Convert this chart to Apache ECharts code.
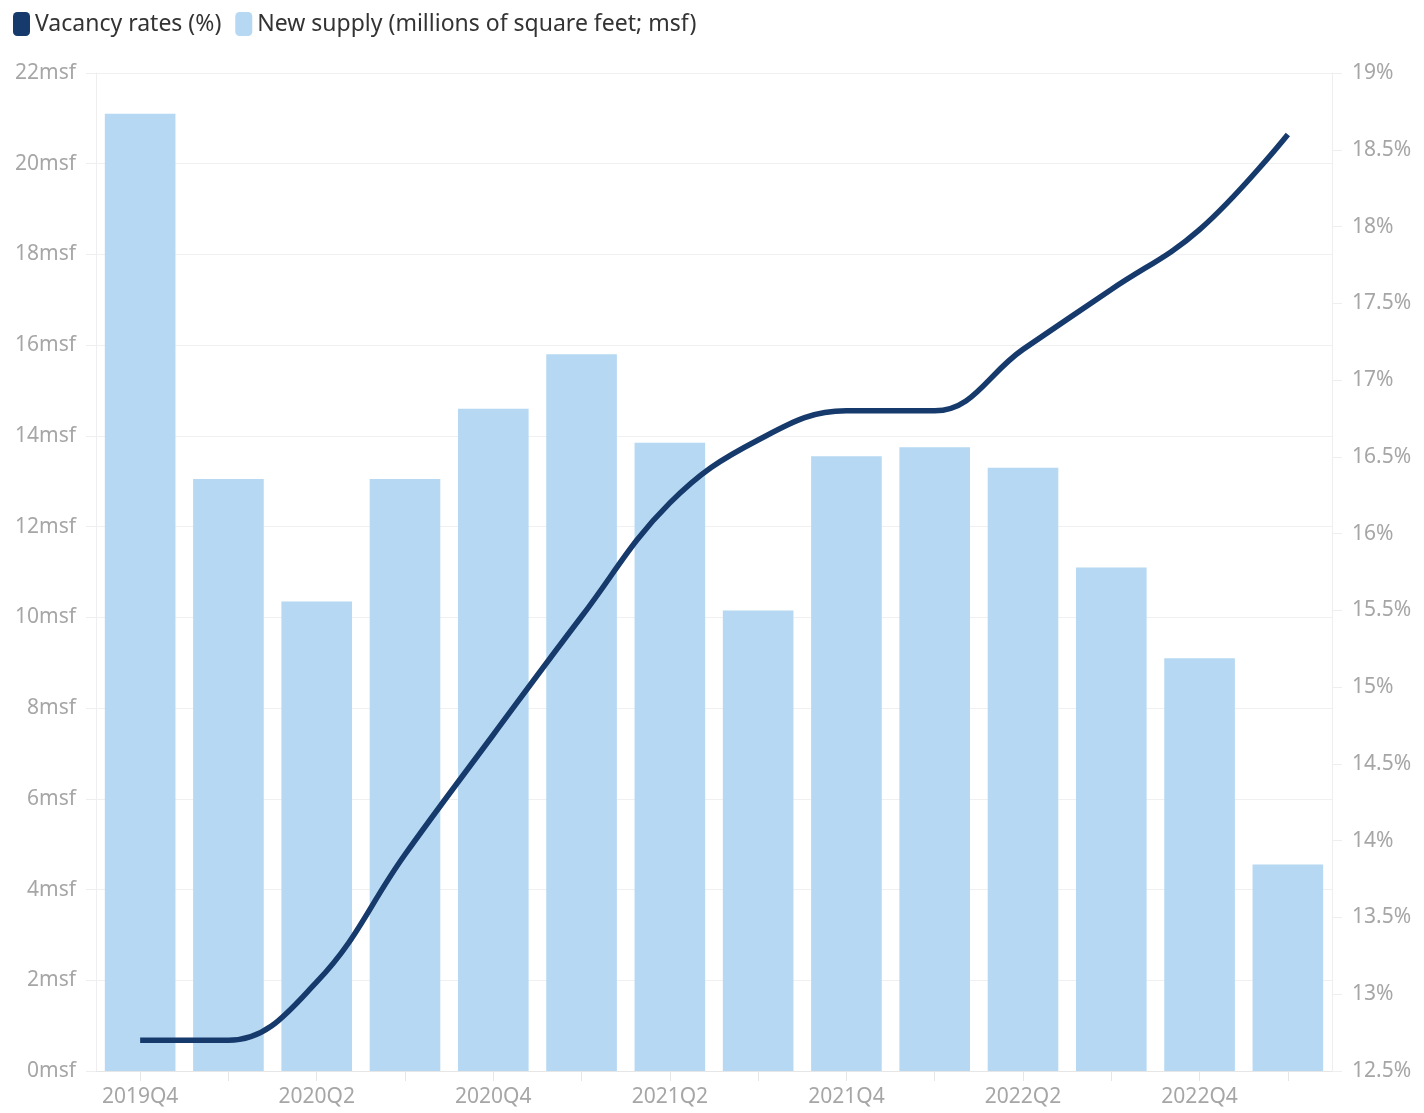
<!DOCTYPE html>
<html>
<head>
<meta charset="utf-8">
<script src="https://cdn.jsdelivr.net/npm/echarts@6/dist/echarts.min.js"></script>
<style>html,body{margin:0;padding:0;background:#fff;}#main{width:1424px;height:1113px;}</style>
</head>
<body>
<div id="main"></div>
<script>
const categories = ['2019Q4','2020Q1','2020Q2','2020Q3','2020Q4','2021Q1','2021Q2','2021Q3','2021Q4','2022Q1','2022Q2','2022Q3','2022Q4','2023Q1'];
const newSupply = [21.1, 13.05, 10.35, 13.05, 14.6, 15.8, 13.85, 10.15, 13.55, 13.75, 13.3, 11.1, 9.1, 4.55];
const vacancy = [12.7, 12.7, 13.08, 13.91, 14.69, 15.46, 16.2, 16.61, 16.8, 16.8, 17.2, 17.59, 17.98, 18.6];
const leftTicks = {min: 0, max: 22, interval: 2};
const rightTicks = {min: 12.5, max: 19, interval: 0.5};

const labelColor = '#a6a6a6';
const font = '"Noto Sans", "Open Sans", sans-serif';
const chart = echarts.init(document.getElementById('main'));
chart.setOption({
  animation: false,
  legend: {
    left: 8, top: 7,
    itemWidth: 17, itemHeight: 24, itemGap: 14,
    textStyle: {fontSize: 23, color: '#333', fontFamily: font},
    data: [
      {name: 'Vacancy rates (%)', icon: 'roundRect', itemStyle: {color: '#163a6c'}},
      {name: 'New supply (millions of square feet; msf)', icon: 'roundRect', itemStyle: {color: '#b6d8f2'}}
    ]
  },
  grid: {left: 96, right: 92, top: 73, bottom: 42},
  xAxis: {
    type: 'category', data: categories,
    axisLine: {lineStyle: {color: '#e6e6e6'}},
    axisTick: {show: true, alignWithLabel: true, interval: 0, length: 10, lineStyle: {color: '#e6e6e6'}},
    axisLabel: {interval: 1, color: labelColor, fontSize: 21, fontFamily: font, margin: 16}
  },
  yAxis: [
    {
      type: 'value', min: leftTicks.min, max: leftTicks.max, interval: leftTicks.interval,
      axisLine: {show: true, lineStyle: {color: '#eeeeee'}},
      axisTick: {show: true, length: 10, lineStyle: {color: '#eeeeee'}},
      splitLine: {lineStyle: {color: '#f0f0f0'}},
      axisLabel: {formatter: v => v + 'msf', color: labelColor, fontSize: 21, fontFamily: font, margin: 20}
    },
    {
      type: 'value', min: rightTicks.min, max: rightTicks.max, interval: rightTicks.interval,
      axisLine: {show: true, lineStyle: {color: '#eeeeee'}},
      axisTick: {show: true, length: 10, lineStyle: {color: '#eeeeee'}},
      splitLine: {show: false},
      axisLabel: {formatter: v => v + '%', color: labelColor, fontSize: 21, fontFamily: font, margin: 20}
    }
  ],
  series: [
    {
      name: 'New supply (millions of square feet; msf)', type: 'bar', yAxisIndex: 0,
      data: newSupply, barCategoryGap: '20%',
      itemStyle: {color: '#b6d8f2'}
    },
    {
      name: 'Vacancy rates (%)', type: 'line', yAxisIndex: 1,
      data: vacancy, smooth: 0.4, showSymbol: false, symbol: 'none',
      lineStyle: {color: '#163a6c', width: 5.5},
      itemStyle: {color: '#163a6c'}
    }
  ]
});
</script>
</body>
</html>
